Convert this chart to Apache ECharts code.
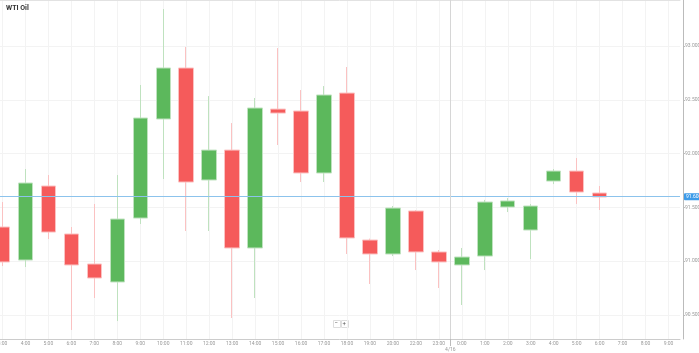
<!DOCTYPE html>
<html>
<head>
<meta charset="utf-8">
<script src="https://cdn.jsdelivr.net/npm/echarts@6/dist/echarts.min.js"></script>
<style>
  html, body { margin: 0; padding: 0; background: #fff; }
  #chart { width: 699px; height: 353px; }
</style>
</head>
<body>
<div id="chart"></div>
<script>
// hourly candles, 4/15 3:00 -> 4/16 9:00 (21:00 is the trading break)
const hours = ['3:00', '4:00', '5:00', '6:00', '7:00', '8:00', '9:00', '10:00', '11:00', '12:00',
  '13:00', '14:00', '15:00', '16:00', '17:00', '18:00', '19:00', '20:00', '22:00', '23:00',
  '0:00', '1:00', '2:00', '3:00', '4:00', '5:00', '6:00', '7:00', '8:00', '9:00']
const opens  = [91.318, 91.011, 91.699, 91.253, 90.974, 90.807, 91.401, 92.322, 92.796, 91.755,
  92.033, 91.123, 92.414, 92.396, 91.820, 92.563, 91.197, 91.067, 91.467, 91.086,
  90.965, 91.048, 91.504, 91.290, 91.745, 91.838, 91.634]
const closes = [90.993, 91.727, 91.271, 90.965, 90.844, 91.392, 92.331, 92.796, 91.736, 92.033,
  91.123, 92.424, 92.377, 91.820, 92.545, 91.216, 91.067, 91.494, 91.086, 90.993,
  91.039, 91.550, 91.560, 91.513, 91.838, 91.643, 91.597]
const lows   = [90.955, 90.946, 91.206, 90.361, 90.658, 90.444, 91.346, 91.764, 91.281, 91.281,
  90.472, 90.658, 92.080, 91.736, 91.736, 91.067, 90.788, 91.048, 90.918, 90.751,
  90.593, 90.918, 91.457, 91.020, 91.717, 91.532, 91.476]
const highs  = [91.550, 91.857, 91.801, 91.318, 91.532, 91.801, 92.638, 93.344, 92.991, 92.535,
  92.284, 92.517, 92.981, 92.591, 92.628, 92.805, 91.210, 91.513, 91.476, 91.104,
  91.123, 91.570, 91.587, 91.532, 91.857, 91.959, 91.699]
const priceTicks = [90.5, 91.0, 91.5, 92.0, 92.5, 93.0]
const lastPrice = 91.597
const dayLabel = '4/16'
const dayStart = hours.indexOf('0:00')

const candles = opens.map((o, i) => [o, closes[i], lows[i], highs[i]])
const idx = hours.map((h, i) => i)

const up = '#5cb85c', down = '#f55b5b'
const lbl = { fontFamily: 'Roboto', fontSize: 5, color: '#999' }

const chart = echarts.init(document.getElementById('chart'))

chart.setOption({
  animation: false,
  title: {
    text: 'WTI Oil', left: 6, top: 5, padding: 0,
    textStyle: { fontFamily: 'Roboto', fontSize: 7, fontWeight: 'bold', color: '#333' }
  },
  grid: { left: -9, right: 19, top: 0, bottom: 14, outerBoundsMode: 'none', containLabel: false },
  xAxis: [
    {
      type: 'category',
      data: hours,
      position: 'bottom',
      axisLine: { onZero: false, lineStyle: { color: '#ccc' } },
      axisTick: { alignWithLabel: true, length: 2, lineStyle: { color: '#ccc' } },
      axisLabel: { ...lbl, margin: 2, interval: 0 },
      splitLine: { show: false }
    },
    {
      // light vertical grid + top border
      type: 'value', position: 'top',
      min: -0.5, max: hours.length - 0.5,
      axisLine: { show: true, onZero: false, lineStyle: { color: '#e2e2e2' } },
      axisTick: { show: false, customValues: idx },
      axisLabel: { show: false },
      splitLine: { show: true, lineStyle: { color: '#f3f3f3' } }
    },
    {
      // day label under the separator
      type: 'value', position: 'bottom',
      min: -0.5, max: hours.length - 0.5,
      axisLine: { show: false, onZero: false },
      axisTick: { show: true, length: 7, customValues: [dayStart - 0.5], lineStyle: { color: '#bbb' } },
      axisLabel: { ...lbl, margin: 8, customValues: [dayStart - 0.5], formatter: () => dayLabel },
      splitLine: { show: false }
    }
  ],
  yAxis: {
    type: 'value',
    position: 'right',
    offset: 3,
    min: 90.277,
    max: 93.428,
    axisLine: { show: true, onZero: false, lineStyle: { color: '#bbb' } },
    axisTick: { show: true, length: 2, customValues: priceTicks, lineStyle: { color: '#bbb' } },
    axisLabel: { ...lbl, margin: 2, customValues: priceTicks, formatter: v => v.toFixed(3) },
    splitLine: { show: true, lineStyle: { color: '#f3f3f3' } }
  },
  graphic: [
    { type: 'rect', left: 333, top: 320, shape: { width: 7, height: 7 },
      style: { fill: '#fff', stroke: '#ddd', lineWidth: 1 } },
    { type: 'text', left: 334.5, top: 320, style: { text: '−', fontSize: 6, fill: '#555', fontFamily: 'Roboto' } },
    { type: 'rect', left: 341, top: 320, shape: { width: 7, height: 7 },
      style: { fill: '#fff', stroke: '#ddd', lineWidth: 1 } },
    { type: 'text', left: 342.5, top: 320, style: { text: '+', fontSize: 6, fill: '#555', fontFamily: 'Roboto' } }
  ],
  series: [
    {
      type: 'candlestick',
      xAxisIndex: 0,
      data: candles,
      barWidth: 15,
      clip: true,
      itemStyle: {
        color: up, color0: down,
        borderColor: '#bfe2bf', borderColor0: '#fbc2c2',
        borderWidth: 1
      },
      markLine: {
        silent: true,
        symbol: 'none',
        data: [{ yAxis: lastPrice }],
        lineStyle: { color: '#8cc3ec', width: 1, type: 'solid' },
        label: {
          position: 'end', distance: 4,
          formatter: p => p.value.toFixed(3),
          fontFamily: 'Roboto', fontSize: 5, color: '#fff',
          backgroundColor: '#3d9be9', padding: [1, 2], borderRadius: 1
        }
      }
    },
    {
      // carrier for the day separator line
      type: 'line',
      xAxisIndex: 1,
      data: [[dayStart - 0.5, lastPrice]],
      symbolSize: 0,
      showSymbol: false,
      silent: true,
      markLine: {
        silent: true,
        symbol: 'none',
        label: { show: false },
        data: [{ xAxis: dayStart - 0.5 }],
        lineStyle: { color: '#d6d6d6', width: 1, type: 'solid' }
      }
    }
  ]
})

window.addEventListener('resize', () => chart.resize())
</script>
</body>
</html>
